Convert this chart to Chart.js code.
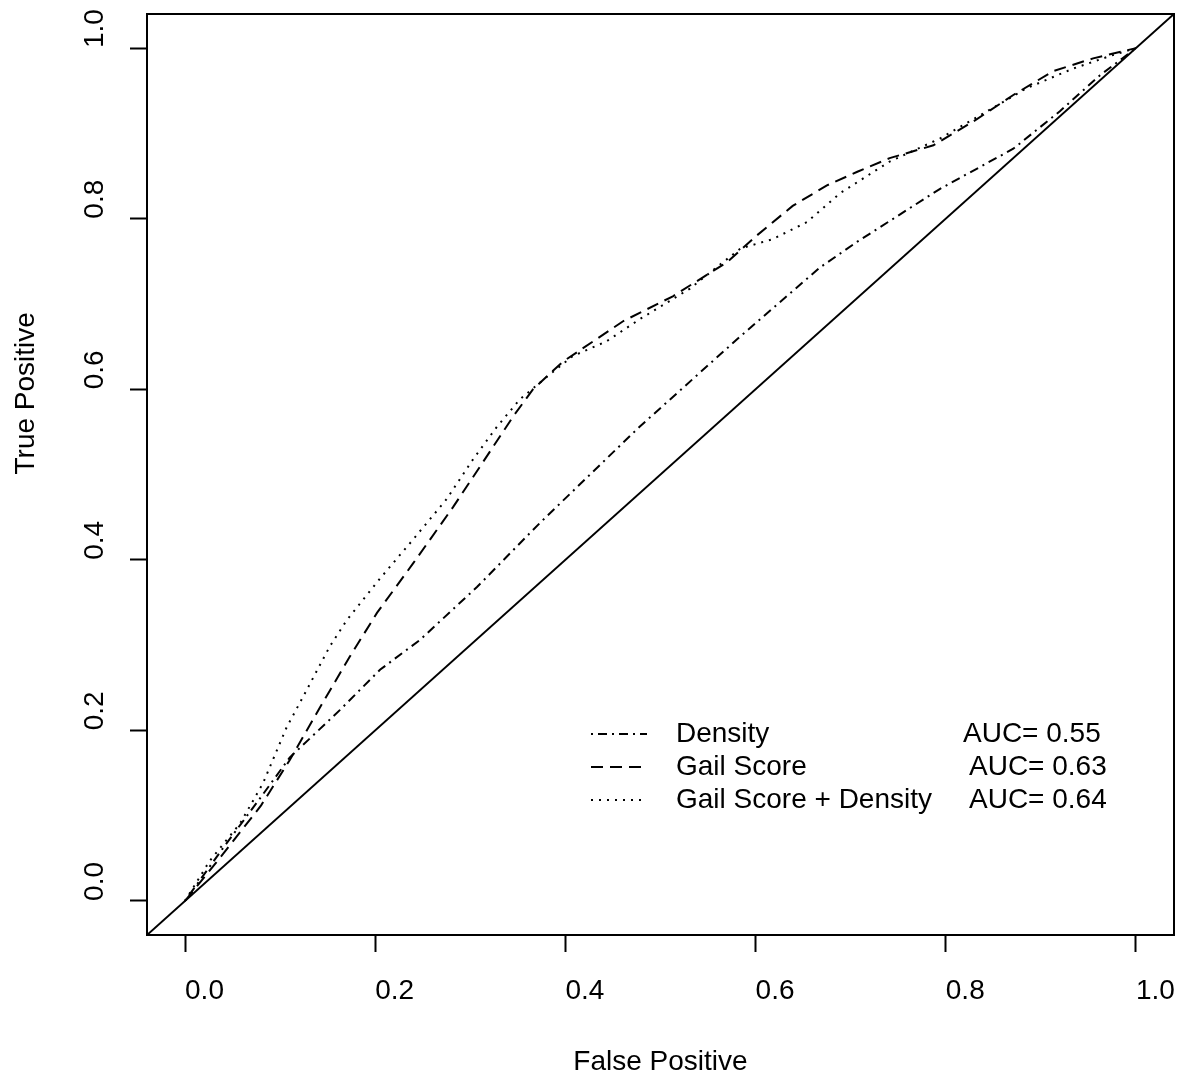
<!DOCTYPE html>
<html>
<head>
<meta charset="utf-8">
<script src="https://cdn.jsdelivr.net/npm/chart.js@4.4.0/dist/chart.umd.min.js"></script>
<style>
	body { margin: 0; background: #fff; }
	#wrap { width: 1184px; height: 1080px; }
</style>
</head>
<body>
<div id="wrap"><canvas id="rocChart" width="1184" height="1080"></canvas></div>
<script>
	var xTicks 		= [0, 0.2, 0.4, 0.6, 0.8, 1.0];
	var xTickLabels = ['0.0', '0.2', '0.4', '0.6', '0.8', '1.0'];
	var yTicks 		= [0, 0.2, 0.4, 0.6, 0.8, 1.0];
	var yTickLabels = ['0.0', '0.2', '0.4', '0.6', '0.8', '1.0'];

	// reference diagonal (abline 0,1) across the full axis range
	var refLine = [-0.04, 1.04];

	var densityFP = [0, 0.04, 0.08, 0.11, 0.163, 0.205, 0.247, 0.307, 0.373, 0.478, 0.584, 0.668, 0.707, 0.794, 0.871, 0.920, 0.962, 1];
	var densityTP = [0, 0.062, 0.122, 0.168, 0.224, 0.271, 0.306, 0.368, 0.443, 0.556, 0.662, 0.743, 0.773, 0.835, 0.882, 0.926, 0.968, 1];

	var gailFP = [0, 0.04, 0.08, 0.11, 0.142, 0.173, 0.202, 0.240, 0.282, 0.313, 0.345, 0.366, 0.397, 0.429, 0.461, 0.513, 0.570, 0.601, 0.639, 0.675, 0.707, 0.741, 0.787, 0.829, 0.871, 0.913, 0.955, 1];
	var gailTP = [0, 0.055, 0.112, 0.165, 0.227, 0.286, 0.338, 0.396, 0.462, 0.514, 0.568, 0.600, 0.632, 0.656, 0.680, 0.709, 0.749, 0.780, 0.815, 0.839, 0.855, 0.871, 0.886, 0.914, 0.945, 0.973, 0.988, 1];

	var comboFP = [0, 0.026, 0.058, 0.082, 0.107, 0.124, 0.152, 0.170, 0.205, 0.240, 0.275, 0.303, 0.328, 0.352, 0.381, 0.408, 0.443, 0.478, 0.531, 0.584, 0.618, 0.654, 0.689, 0.741, 0.794, 0.836, 0.885, 0.934, 0.976, 1];
	var comboTP = [0, 0.047, 0.091, 0.138, 0.204, 0.239, 0.298, 0.329, 0.378, 0.424, 0.471, 0.518, 0.556, 0.588, 0.615, 0.639, 0.656, 0.682, 0.718, 0.765, 0.776, 0.796, 0.830, 0.867, 0.894, 0.921, 0.953, 0.976, 0.992, 1];

	var seriesNames = ['Density', 'Gail Score', 'Gail Score + Density'];
	var aucLabels 	= ['AUC= 0.55', 'AUC= 0.63', 'AUC= 0.64'];
	var seriesDash 	= [[2, 5, 9, 5], [12, 7], [2, 6]];

	var fontFamily = '"Liberation Sans", Arial, Helvetica, sans-serif';

	function toPoints(xs, ys) {
		return xs.map(function(v, i) { return {x: v, y: ys[i]}; });
	}

	// box, rotated y title and the in-plot legend (R style)
	var rocDecor = {
		id: 'rocDecor',
		afterDraw: function(chart) {
			var ctx = chart.ctx;
			var a 	= chart.chartArea;
			ctx.save();
			ctx.strokeStyle = '#000';
			ctx.lineWidth 	= 2;
			ctx.strokeRect(a.left, a.top, a.right - a.left, a.bottom - a.top);

			ctx.fillStyle 		= '#000';
			ctx.font 			= '28px ' + fontFamily;
			ctx.textBaseline 	= 'middle';

			ctx.save();
			ctx.translate(26, (a.top + a.bottom) / 2);
			ctx.rotate(-Math.PI / 2);
			ctx.textAlign = 'left';
			ctx.fillText('True Positive', 0, 0);
			ctx.restore();

			var rowY 	= [734, 767, 800];
			var aucX 	= [963, 969, 969];
			for (var i = 0; i < seriesNames.length; i++) {
				ctx.beginPath();
				ctx.setLineDash(seriesDash[i]);
				ctx.moveTo(591, rowY[i]);
				ctx.lineTo(647, rowY[i]);
				ctx.stroke();
				ctx.setLineDash([]);
				ctx.textAlign = 'left';
				ctx.fillText(seriesNames[i], 676, rowY[i]);
				ctx.fillText(aucLabels[i], aucX[i], rowY[i]);
			}
			ctx.restore();
		}
	};

	Chart.defaults.font.family = fontFamily;
	Chart.defaults.color = '#000';

	var ctxRoc = document.getElementById('rocChart').getContext('2d');
	var myRoc = new Chart(ctxRoc, {
		type: 'line',
		data: {
			datasets: [{
				label: 'ref',
				data: toPoints(refLine, refLine),
				borderColor: '#000',
				borderWidth: 2
			}, {
				label: seriesNames[0],
				data: toPoints(densityFP, densityTP),
				borderColor: '#000',
				borderDash: seriesDash[0]
			}, {
				label: seriesNames[1],
				data: toPoints(gailFP, gailTP),
				borderColor: '#000',
				borderDash: seriesDash[1]
			}, {
				label: seriesNames[2],
				data: toPoints(comboFP, comboTP),
				borderColor: '#000',
				borderDash: seriesDash[2]
			}]
		},
		options: {
			responsive: false,
			animation: false,
			layout: {
				padding: {left: 0, right: 10, top: 14, bottom: 0}
			},
			elements: {
				point: {radius: 0},
				line: {tension: 0, borderWidth: 2, fill: false}
			},
			plugins: {
				legend: {display: false},
				tooltip: {enabled: false}
			},
			scales: {
				x: {
					type: 'linear',
					min: -0.04,
					max: 1.04,
					afterBuildTicks: function(scale) {
						scale.ticks = xTicks.map(function(v) { return {value: v}; });
					},
					afterFit: function(scale) {
						scale.height = 145;
						scale.paddingLeft = 0;
						scale.paddingRight = 0;
					},
					border: {display: false},
					grid: {drawOnChartArea: false, tickLength: 17, tickWidth: 2, tickColor: '#000'},
					ticks: {
						autoSkip: false,
						maxRotation: 0,
						align: 'start',
						padding: 22,
						font: {size: 28},
						callback: function(v, i) { return xTickLabels[i]; }
					},
					title: {
						display: true,
						text: 'False Positive',
						font: {size: 28},
						padding: {top: 0, bottom: 1}
					}
				},
				y: {
					type: 'linear',
					min: -0.04,
					max: 1.04,
					afterBuildTicks: function(scale) {
						scale.ticks = yTicks.map(function(v) { return {value: v}; });
					},
					afterFit: function(scale) {
						scale.width = 147;
						scale.paddingTop = 0;
						scale.paddingBottom = 0;
					},
					border: {display: false},
					grid: {drawOnChartArea: false, tickLength: 17, tickWidth: 2, tickColor: '#000'},
					ticks: {
						autoSkip: false,
						minRotation: 90,
						maxRotation: 90,
						crossAlign: 'center',
						padding: -4,
						font: {size: 28},
						// leading blanks as wide as the label: rotated text starts at the tick like R
						callback: function(v, i) { return '     ' + yTickLabels[i]; }
					}
				}
			}
		},
		plugins: [rocDecor]
	});
</script>
</body>
</html>
